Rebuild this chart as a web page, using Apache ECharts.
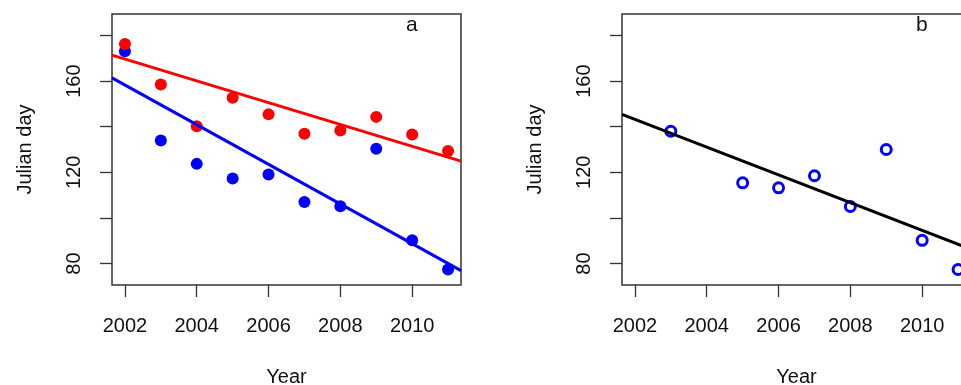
<!DOCTYPE html>
<html>
<head>
<meta charset="utf-8">
<script src="https://cdn.jsdelivr.net/npm/echarts@6/dist/echarts.min.js"></script>
<style>
  html, body { margin: 0; padding: 0; background: #fff; }
  #chart { width: 961px; height: 385px; }
</style>
</head>
<body>
<div id="chart"></div>
<script>
// values
const years = [2002, 2003, 2004, 2005, 2006, 2007, 2008, 2009, 2010, 2011]
const redDays = [176.3, 158.5, 140.2, 152.7, 145.4, 136.9, 138.3, 144.3, 136.6, 129.3]
const blueDays = [173.1, 133.9, 123.7, 117.3, 119.0, 107.0, 105.1, 130.3, 90.2, 77.4]
const openYears = [2003, 2005, 2006, 2007, 2008, 2009, 2010, 2011]
const openDays = [138.0, 115.4, 113.2, 118.5, 105.0, 130.0, 90.2, 77.4]

// fitted lines, value at left and right edge of the plot
const xRange = [2001.64, 2011.36]
const redFit = [171.4, 124.9]
const blueFit = [161.4, 76.9]
const blackFit = [145.4, 86.3]

const yRange = [70.6, 189.4]
const yTicks = [80, 100, 120, 140, 160, 180]
const yLabels = [80, 120, 160]
const xTicks = [2002, 2004, 2006, 2008, 2010]

const font = 'Liberation Sans, Arial, sans-serif'
const textColor = '#111'

const pair = (xs, ys) => xs.map((x, i) => [x, ys[i]])

function xAxisFor(idx) {
  return {
    type: 'value',
    gridIndex: idx,
    min: xRange[0],
    max: xRange[1],
    name: 'Year',
    nameLocation: 'middle',
    nameGap: 82,
    nameTextStyle: { fontSize: 20, color: textColor, fontFamily: font },
    axisLine: { show: false },
    splitLine: { show: false },
    axisTick: { show: true, length: 12, customValues: xTicks, lineStyle: { color: '#333', width: 1.3 } },
    axisLabel: {
      customValues: xTicks, margin: 31, fontSize: 20, color: textColor, fontFamily: font,
      formatter: v => String(v)
    }
  }
}

function yAxisFor(idx) {
  return {
    type: 'value',
    gridIndex: idx,
    min: yRange[0],
    max: yRange[1],
    name: 'Julian day',
    nameLocation: 'middle',
    nameGap: 77,
    nameTextStyle: { fontSize: 20, color: textColor, fontFamily: font },
    axisLine: { show: false },
    splitLine: { show: false },
    axisTick: { show: true, length: 12, customValues: yTicks, lineStyle: { color: '#333', width: 1.3 } },
    axisLabel: { customValues: yLabels, rotate: 90, margin: 28, fontSize: 20, color: textColor, fontFamily: font }
  }
}

const chart = echarts.init(document.getElementById('chart'))
chart.setOption({
  animation: false,
  backgroundColor: '#fff',
  title: [
    { text: 'a', left: 401, top: 10, textStyle: { fontSize: 21, fontWeight: 'normal', color: textColor, fontFamily: font } },
    { text: 'b', left: 911, top: 10, textStyle: { fontSize: 21, fontWeight: 'normal', color: textColor, fontFamily: font } }
  ],
  grid: [
    { left: 112, top: 14, width: 349, height: 271, outerBoundsMode: 'none', show: true, borderColor: '#333', borderWidth: 1.5 },
    { left: 622, top: 14, width: 349, height: 271, outerBoundsMode: 'none', show: true, borderColor: '#333', borderWidth: 1.5 }
  ],
  xAxis: [xAxisFor(0), xAxisFor(1)],
  yAxis: [yAxisFor(0), yAxisFor(1)],
  series: [
    {
      type: 'line', xAxisIndex: 0, yAxisIndex: 0,
      data: pair(xRange, redFit), showSymbol: false,
      lineStyle: { color: '#ff0000', width: 3 }
    },
    {
      type: 'line', xAxisIndex: 0, yAxisIndex: 0,
      data: pair(xRange, blueFit), showSymbol: false,
      lineStyle: { color: '#0000ff', width: 3 }
    },
    {
      type: 'scatter', xAxisIndex: 0, yAxisIndex: 0,
      data: pair(years, blueDays), symbolSize: 12,
      itemStyle: { color: '#0000ff', opacity: 1 }
    },
    {
      type: 'scatter', xAxisIndex: 0, yAxisIndex: 0,
      data: pair(years, redDays), symbolSize: 12,
      itemStyle: { color: '#ff0000', opacity: 1 }
    },
    {
      type: 'line', xAxisIndex: 1, yAxisIndex: 1,
      data: pair(xRange, blackFit), showSymbol: false,
      lineStyle: { color: '#000', width: 3 }
    },
    {
      type: 'scatter', xAxisIndex: 1, yAxisIndex: 1,
      data: pair(openYears, openDays), symbolSize: 10,
      itemStyle: { color: '#fff', borderColor: '#0000ff', borderWidth: 3, opacity: 1 }
    }
  ]
})
</script>
</body>
</html>
